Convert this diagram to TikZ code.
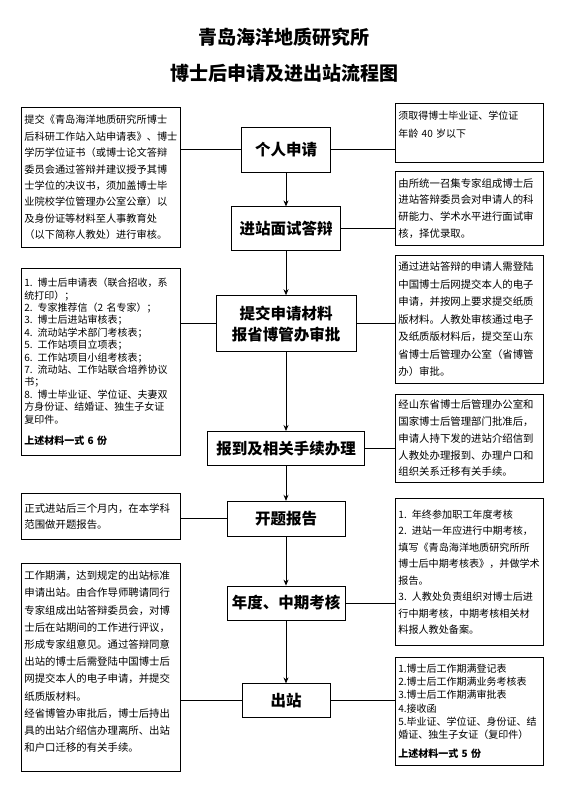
\documentclass[tikz,border=0pt]{standalone}
\usepackage{fontspec}
\setmainfont{Noto Sans CJK SC}
\usetikzlibrary{arrows.meta,positioning}

\begin{document}
\begin{tikzpicture}[x=1pt,y=-1pt,
  stage/.style={draw,line width=0.8pt,align=center,inner sep=0pt,
                font=\fontsize{15.5}{21}\selectfont\bfseries},
  note/.style={draw,line width=0.8pt,anchor=north west,align=left,
               inner xsep=3pt,inner ysep=0pt},
  lnote/.style={note,text width=153pt},
  rnote/.style={note,text width=142pt},
  arr/.style={-{Stealth[length=6pt,width=5pt]},line width=0.8pt},
  link/.style={line width=0.8pt},
  headline/.style={font=\fontsize{19}{19}\selectfont\bfseries}
]
\useasboundingbox (0,0) rectangle (568,789);

% title
\node[headline] (title)    at (284,37) {青岛海洋地质研究所};
\node[headline] (subtitle) at (284,73) {博士后申请及进出站流程图};

% main column
\node[stage,minimum width=89pt,minimum height=45pt] (apply) at (286,149.5) {个人申请};
\node[stage,minimum width=109pt,minimum height=44pt,below=34pt of apply] (interview) {进站面试答辩};
\node[stage,minimum width=140pt,minimum height=56pt,below=44pt of interview] (submit) {提交申请材料\\报省博管办审批};
\node[stage,minimum width=157pt,minimum height=34pt,below=79pt of submit] (report) {报到及相关手续办理};
\node[stage,minimum width=118pt,minimum height=35pt,below=35pt of report] (opening) {开题报告};
\node[stage,minimum width=118pt,minimum height=34pt,below=49pt of opening] (assess) {年度、中期考核};
\node[stage,minimum width=88pt,minimum height=34pt,below=63pt of assess] (leave) {出站};

% left notes
\node[lnote,minimum height=140pt,font=\fontsize{10.2}{16.4}\selectfont] (l1) at (21,107)
  {提交《青岛海洋地质研究所博士\\后科研工作站入站申请表》、博士\\学历学位证书（或博士论文答辩\\委员会通过答辩并建议授予其博\\士学位的决议书，须加盖博士毕\\业院校学位管理办公室公章）以\\及身份证等材料至人事教育处\\（以下简称人教处）进行审核。};
\node[lnote,minimum height=187pt,font=\fontsize{10}{12.4}\selectfont] (l2) at (21,268)
  {1. 博士后申请表（联合招收，系\\统打印）；\\2. 专家推荐信（2 名专家）；\\3. 博士后进站审核表；\\4. 流动站学术部门考核表；\\5. 工作站项目立项表；\\6. 工作站项目小组考核表；\\7. 流动站、工作站联合培养协议\\书；\\8. 博士毕业证、学位证、夫妻双\\方身份证、结婚证、独生子女证\\复印件。\\[9pt]\textbf{上述材料一式 6 份}};
\node[lnote,minimum height=46pt,font=\fontsize{10.4}{15.5}\selectfont] (l3) at (21,493)
  {正式进站后三个月内，在本学科\\范围做开题报告。};
\node[lnote,minimum height=208pt,font=\fontsize{10.4}{17.2}\selectfont] (l4) at (21,563)
  {工作期满，达到规定的出站标准\\申请出站。由合作导师聘请同行\\专家组成出站答辩委员会，对博\\士后在站期间的工作进行评议，\\形成专家组意见。通过答辩同意\\出站的博士后需登陆中国博士后\\网提交本人的电子申请，并提交\\纸质版材料。\\经省博管办审批后，博士后持出\\具的出站介绍信办理离所、出站\\和户口迁移的有关手续。\\[-5pt]\rule{0pt}{0pt}};

% right notes
\node[rnote,minimum height=59pt,font=\fontsize{10}{17.7}\selectfont] (r1) at (395,103)
  {须取得博士毕业证、学位证\\年龄 40 岁以下\\\rule{0pt}{0pt}};
\node[rnote,minimum height=74pt,font=\fontsize{10.4}{16.7}\selectfont] (r2) at (395,171)
  {由所统一召集专家组成博士后\\进站答辩委员会对申请人的科\\研能力、学术水平进行面试审\\核，择优录取。};
\node[rnote,minimum height=128pt,font=\fontsize{10.4}{17.5}\selectfont] (r3) at (395,255)
  {通过进站答辩的申请人需登陆\\中国博士后网提交本人的电子\\申请，并按网上要求提交纸质\\版材料。人教处审核通过电子\\及纸质版材料后，提交至山东\\省博士后管理办公室（省博管\\办）审批。};
\node[rnote,minimum height=88pt,font=\fontsize{10.4}{16.7}\selectfont] (r4) at (395,394)
  {经山东省博士后管理办公室和\\国家博士后管理部门批准后，\\申请人持下发的进站介绍信到\\人教处办理报到、办理户口和\\组织关系迁移有关手续。};
\node[rnote,minimum height=147pt,font=\fontsize{10.1}{16.5}\selectfont] (r5) at (395,498)
  {1. 年终参加职工年度考核\\2. 进站一年应进行中期考核，\\填写《青岛海洋地质研究所所\\博士后中期考核表》，并做学术\\报告。\\3. 人教处负责组织对博士后进\\行中期考核，中期考核相关材\\料报人教处备案。};
\node[rnote,minimum height=108pt,font=\fontsize{10}{13.2}\selectfont] (r6) at (395,657)
  {1.博士后工作期满登记表\\2.博士后工作期满业务考核表\\3.博士后工作期满审批表\\4.接收函\\5.毕业证、学位证、身份证、结\\婚证、独生子女证（复印件）\\[6pt]\textbf{上述材料一式 5 份}};

% flow arrows
\foreach \a/\b in {apply/interview,interview/submit,submit/report,report/opening,opening/assess,assess/leave}
  \draw[arr] (\a) -- (\b);

% side links
\draw[link] (apply.west) -- (apply.west -| l1.east);
\draw[link] (apply.east) -- (apply.east -| r1.west);
\draw[link] (interview.east) -- (interview.east -| r2.west);
\draw[link] (submit.west) -- (submit.west -| l2.east);
\draw[link] (submit.east) -- (submit.east -| r3.west);
\draw[link] (report.east) -- (report.east -| r4.west);
\draw[link] (opening.west) -- (opening.west -| l3.east);
\draw[link] (assess.east) -- (assess.east -| r5.west);
\draw[link] (leave.west) -- (leave.west -| l4.east);
\draw[link] (leave.east) -- (leave.east -| r6.west);
\end{tikzpicture}
\end{document}
